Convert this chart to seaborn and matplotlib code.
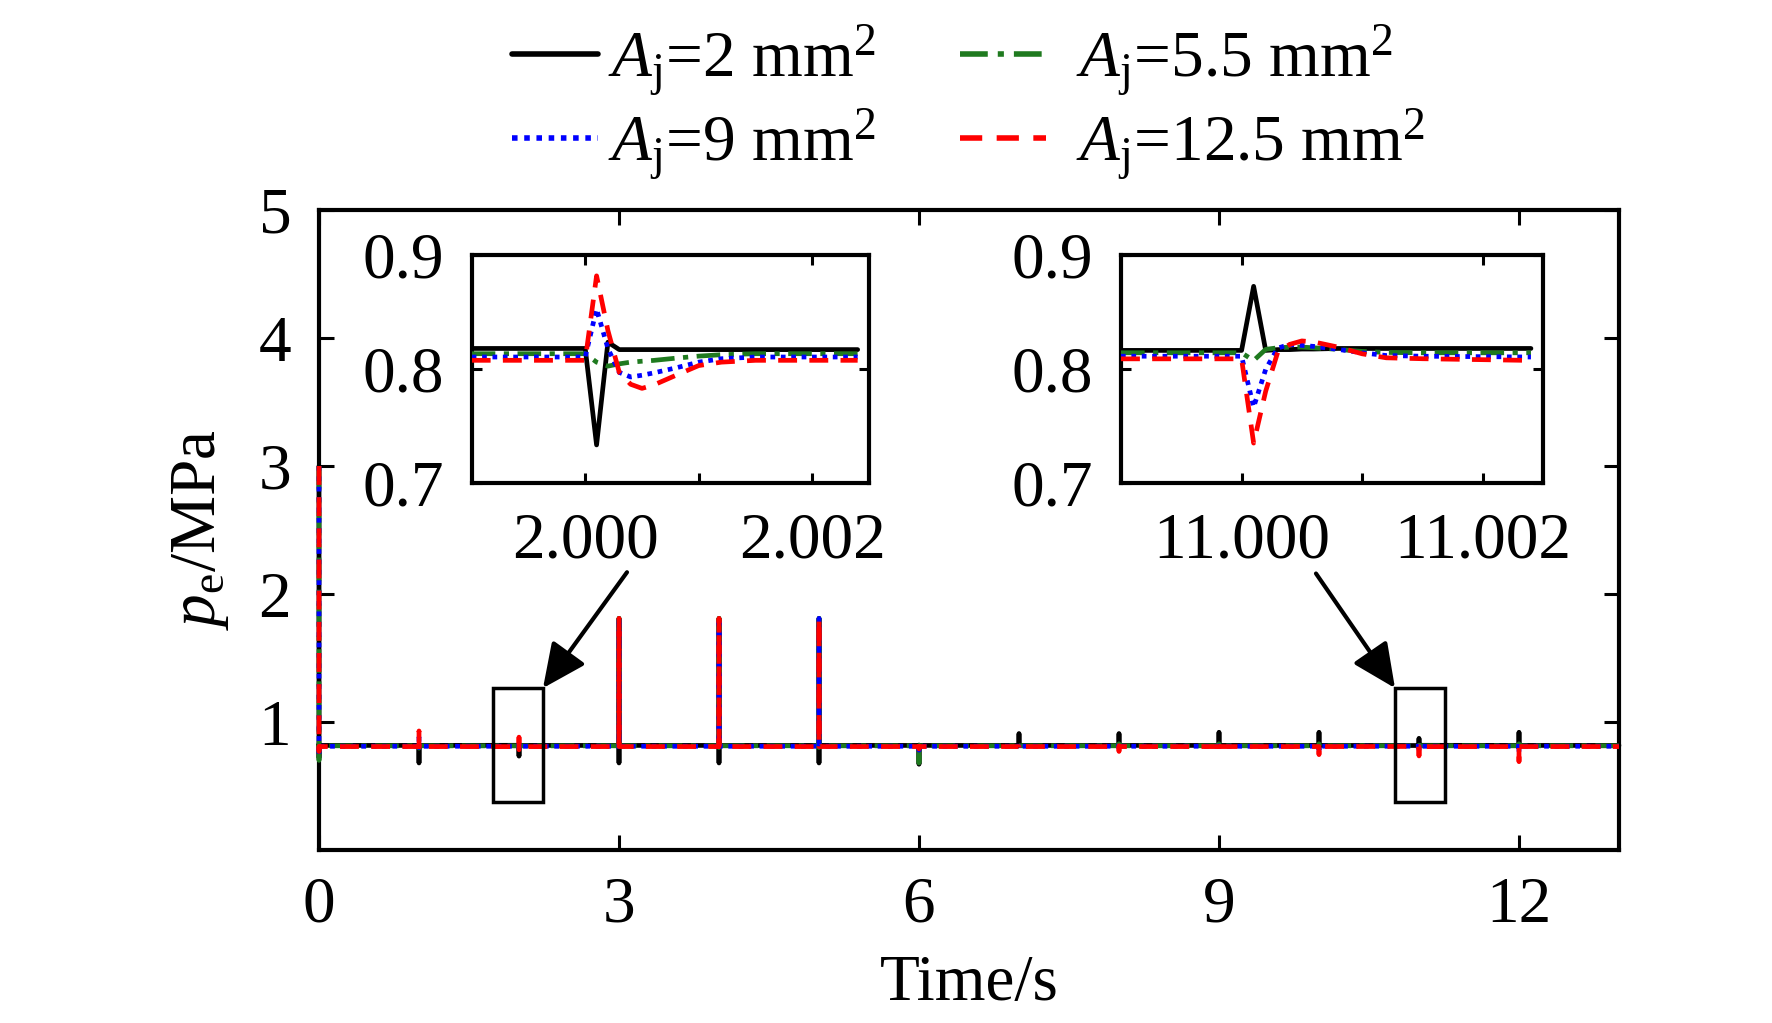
import pandas as pd
import matplotlib
matplotlib.use("Agg")
import matplotlib.pyplot as plt
import seaborn as sns
from matplotlib.patches import Rectangle


# data: shared time grid + one pressure series per orifice area
time_s = [
    0.0, 0.0002, 0.0005, 0.002,
    1.0, 1.0001, 1.0002, 1.0004,
    1.999, 2.0, 2.0001, 2.0002, 2.0003, 2.0004, 2.0005, 2.0006, 2.0008, 2.001, 2.0012, 2.0015, 2.0024,
    3.0, 3.0001, 3.0003, 3.0006,
    4.0, 4.0001, 4.0003, 4.0006,
    5.0, 5.0001, 5.0003, 5.0006,
    6.0, 6.0001, 6.0002, 6.0004,
    7.0, 7.0001, 7.0002, 7.0004,
    8.0, 8.0001, 8.0002, 8.0004,
    9.0, 9.0001, 9.0002, 9.0004,
    10.0, 10.0001, 10.0002, 10.0004,
    10.999, 11.0, 11.0001, 11.0002, 11.0003, 11.0004, 11.0005, 11.0006, 11.0008, 11.001, 11.0012, 11.0015, 11.0024,
    12.0, 12.0001, 12.0002, 12.0004,
    13.0,
]

p_a2 = [
    3.0, 0.72, 0.83, 0.817,
    0.817, 0.68, 0.825, 0.817,
    0.818, 0.818, 0.7334, 0.8235, 0.817, 0.817, 0.817, 0.817, 0.817, 0.817, 0.817, 0.817, 0.817,
    0.817, 0.68, 1.81, 0.817,
    0.817, 0.68, 1.81, 0.817,
    0.817, 0.68, 1.81, 0.817,
    0.817, 0.67, 0.82, 0.817,
    0.817, 0.91, 0.817, 0.817,
    0.817, 0.91, 0.817, 0.817,
    0.817, 0.92, 0.817, 0.817,
    0.817, 0.92, 0.817, 0.817,
    0.8163, 0.8163, 0.8725, 0.8163, 0.817, 0.817, 0.8175, 0.8175, 0.818, 0.818, 0.818, 0.818, 0.818,
    0.817, 0.92, 0.817, 0.817,
    0.817,
]

p_a55 = [
    3.0, 0.70, 0.82, 0.814,
    0.814, 0.795, 0.812, 0.814,
    0.8134, 0.8134, 0.806, 0.8025, 0.8045, 0.806, 0.8068, 0.8075, 0.8095, 0.8113, 0.8125, 0.8134, 0.8134,
    0.814, 0.80, 1.81, 0.814,
    0.814, 0.80, 1.81, 0.814,
    0.814, 0.80, 1.81, 0.814,
    0.814, 0.68, 0.816, 0.814,
    0.814, 0.83, 0.814, 0.814,
    0.814, 0.83, 0.814, 0.814,
    0.814, 0.83, 0.814, 0.814,
    0.814, 0.83, 0.814, 0.814,
    0.8142, 0.8142, 0.8074, 0.8172, 0.8186, 0.8192, 0.8192, 0.8186, 0.8172, 0.8154, 0.8145, 0.8142, 0.8142,
    0.814, 0.83, 0.814, 0.814,
    0.814,
]

p_a9 = [
    3.0, 0.74, 0.82, 0.8105,
    0.8105, 0.88, 0.80, 0.8105,
    0.8105, 0.8105, 0.8526, 0.818, 0.797, 0.793, 0.7945, 0.7965, 0.801, 0.806, 0.809, 0.8105, 0.8105,
    0.8105, 0.83, 1.81, 0.8105,
    0.8105, 0.83, 1.81, 0.8105,
    0.8105, 0.83, 1.81, 0.8105,
    0.8105, 0.78, 0.81, 0.8105,
    0.8105, 0.80, 0.812, 0.8105,
    0.8105, 0.79, 0.812, 0.8105,
    0.8105, 0.78, 0.813, 0.8105,
    0.8105, 0.78, 0.813, 0.8105,
    0.8112, 0.8112, 0.7665, 0.7997, 0.8183, 0.8216, 0.8207, 0.8198, 0.8172, 0.8142, 0.8118, 0.8112, 0.8105,
    0.8105, 0.76, 0.813, 0.8105,
    0.8105,
]

p_a125 = [
    3.0, 0.77, 0.81, 0.808,
    0.808, 0.93, 0.79, 0.808,
    0.8076, 0.8076, 0.8817, 0.8337, 0.797, 0.7866, 0.783, 0.7858, 0.7945, 0.803, 0.806, 0.8076, 0.8076,
    0.808, 0.86, 1.81, 0.808,
    0.808, 0.86, 1.81, 0.808,
    0.808, 0.86, 1.81, 0.808,
    0.808, 0.79, 0.808, 0.808,
    0.808, 0.79, 0.815, 0.808,
    0.808, 0.77, 0.815, 0.808,
    0.808, 0.76, 0.815, 0.808,
    0.808, 0.745, 0.816, 0.808,
    0.8089, 0.8089, 0.735, 0.7805, 0.8148, 0.8216, 0.8246, 0.8237, 0.8192, 0.8133, 0.8098, 0.809, 0.8075,
    0.808, 0.69, 0.816, 0.808,
    0.808,
]

labels = [r'$A_{\mathrm{j}}$=2 mm$^2$', r'$A_{\mathrm{j}}$=5.5 mm$^2$',
          r'$A_{\mathrm{j}}$=9 mm$^2$', r'$A_{\mathrm{j}}$=12.5 mm$^2$']
colors = ['black', '#1f7a1f', '#0000ff', '#ff0000']
styles = ['-', (0, (5, 1.8, 1.1, 1.8)), (0, (1, 1.2)), (0, (4, 2.6))]

# zoom windows shown in the insets
zoom_t0 = [1.999, 10.999]
zoom_t1 = [2.0024, 11.0024]
zoom_ticks = [[2.000, 2.002], [11.000, 11.002]]
zoom_minor = [2.001, 11.001]


df = pd.DataFrame({'t': time_s, 'a2': p_a2, 'a55': p_a55, 'a9': p_a9, 'a125': p_a125})
cols = ['a2', 'a55', 'a9', 'a125']

sns.set_style("ticks")
plt.rcParams['font.family'] = ['Liberation Serif', 'DejaVu Serif']
plt.rcParams['mathtext.fontset'] = 'custom'
plt.rcParams['mathtext.rm'] = 'Liberation Serif'
plt.rcParams['mathtext.it'] = 'Liberation Serif:italic'
plt.rcParams['font.size'] = 47
for key in ['text.color', 'axes.labelcolor', 'xtick.color', 'ytick.color', 'axes.edgecolor']:
    plt.rcParams[key] = 'black'

LW = 3.4
fig = plt.figure(figsize=(17.72, 10.23), dpi=100)
ax = fig.add_axes([0.18002, 0.16911, 0.73363, 0.62561])


def draw_lines(a, data, clip=True):
    for c, col, ls in zip(cols, colors, styles):
        sns.lineplot(x=data['t'], y=data[c], ax=a, color=col, linestyle=ls,
                     linewidth=LW, estimator=None, sort=False,
                     clip_on=clip, zorder=3)
    if a.get_legend() is not None:
        a.get_legend().remove()


def frame(a, tick_len):
    for s in a.spines.values():
        s.set_linewidth(3)
        s.set_color('black')
    a.tick_params(which='both', direction='in', width=2.2, length=tick_len,
                  top=True, right=True, colors='black', labelsize=47)
    a.set_xlabel('')
    a.set_ylabel('')


draw_lines(ax, df, clip=False)
frame(ax, 11)
ax.set_xlim(0, 13)
ax.set_ylim(0, 5)
ax.set_xticks([0, 3, 6, 9, 12])
ax.set_yticks([1, 2, 3, 4, 5])
ax.tick_params(axis='x', pad=19)
ax.tick_params(axis='y', pad=20)
ax.set_xlabel('Time/s', fontsize=47, color='black')
ax.set_ylabel(r'$p_{\mathrm{e}}$/MPa', fontsize=47, color='black')
ax.xaxis.set_label_coords(0.5, -0.163)
ax.yaxis.set_label_coords(-0.068, 0.5)

# boxes marking the zoom windows and arrows to them
box_x = [1.74, 10.76]
box_y = 0.375
box_w = 0.5
box_h = 0.89
for bx in box_x:
    ax.add_patch(Rectangle((bx, box_y), box_w, box_h, fill=False, lw=2.5,
                           edgecolor='black', zorder=5))
arrow_tips = [(2.24, 1.265), (10.76, 1.265)]
arrow_tails = [(3.08, 2.17), (9.97, 2.16)]
for tip, tail in zip(arrow_tips, arrow_tails):
    ax.annotate('', xy=tip, xytext=tail,
                arrowprops=dict(arrowstyle='-|>,head_length=0.9,head_width=0.42',
                                mutation_scale=30, lw=3, color='black',
                                shrinkA=0, shrinkB=0), zorder=6)

# insets
inset_pos = [[0.2662, 0.52786, 0.22421, 0.2229], [0.63262, 0.52786, 0.23815, 0.2229]]
for i in range(2):
    ins = fig.add_axes(inset_pos[i])
    sub = df[(df['t'] >= zoom_t0[i]) & (df['t'] <= zoom_t1[i])]
    draw_lines(ins, sub)
    frame(ins, 7)
    ins.set_xlim(zoom_t0[i], zoom_t0[i] + 0.0035)
    ins.set_ylim(0.7, 0.9)
    ins.set_xticks(zoom_ticks[i])
    ins.set_xticklabels([f'{v:.3f}' for v in zoom_ticks[i]])
    ins.set_xticks([zoom_minor[i]], minor=True)
    ins.tick_params(axis='x', which='minor', top=False)
    ins.set_yticks([0.7, 0.8, 0.9])
    ins.set_yticklabels(['0.7', '0.8', '0.9'])
    ins.tick_params(axis='x', pad=21)
    ins.tick_params(axis='y', pad=20)

# legend: two columns, drawn as two legends so the column gaps match
handles = ax.get_lines()[:4]
leg_cols = [[0, 2], [1, 3]]
leg_x = [0.2887, 0.5418]
leg_pad = [0.15, 0.45]
for k in range(2):
    leg = fig.legend([handles[j] for j in leg_cols[k]], [labels[j] for j in leg_cols[k]],
                     loc='upper left', bbox_to_anchor=(leg_x[k], 0.978),
                     frameon=False, fontsize=47, handlelength=1.32,
                     handletextpad=leg_pad[k], labelspacing=0.12,
                     borderpad=0, borderaxespad=0)
    for ln in leg.get_lines():
        ln.set_linewidth(4)

fig.savefig('out.png', dpi=100)
